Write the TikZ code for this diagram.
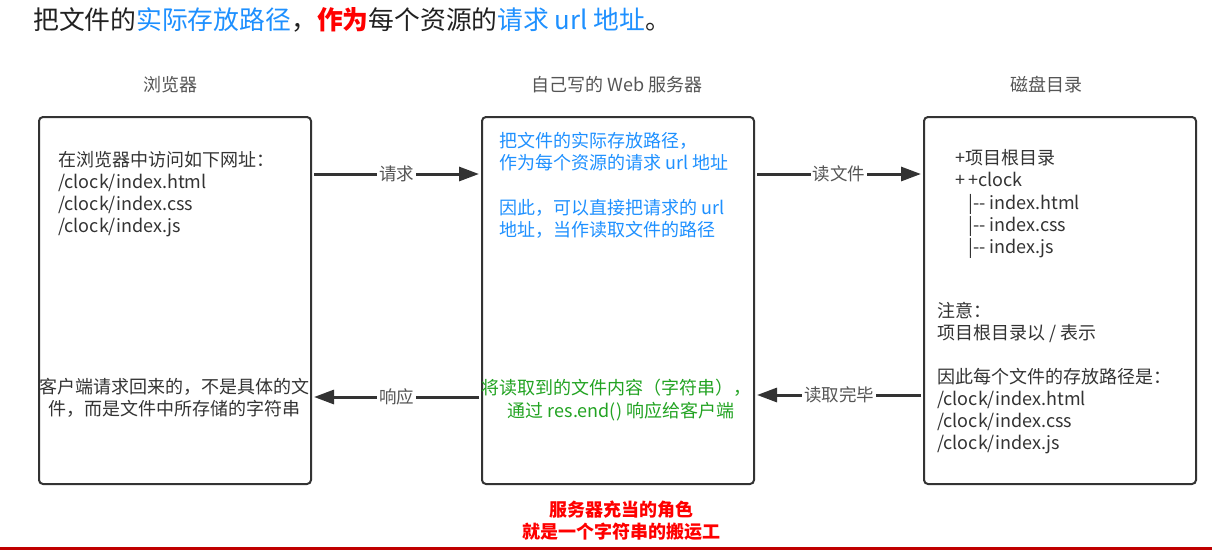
\documentclass[tikz,border=0pt]{standalone}
\usepackage{fontspec}
\setmainfont{Noto Sans CJK SC}
\usetikzlibrary{arrows.meta}
\definecolor{ink}{HTML}{333333}
\definecolor{lblgray}{HTML}{555555}
\definecolor{hblue}{HTML}{1E90FF}
\definecolor{hgreen}{HTML}{22A322}
\definecolor{hred}{HTML}{FF0000}
\definecolor{linered}{HTML}{C00000}
\begin{document}
\begin{tikzpicture}[x=1pt,y=-1pt,
  panel/.style={draw=ink,line width=2pt,rounded corners=4pt,minimum width=272pt,minimum height=367pt,inner sep=0pt,anchor=north west},
  txt/.style={font=\fontsize{18}{22}\selectfont,text=ink,inner sep=0pt},
  ln/.style={txt,anchor=base west},
  lc/.style={txt,anchor=base},
  ttl/.style={font=\fontsize{18}{20}\selectfont,text=lblgray,inner sep=0pt,anchor=base},
  arr/.style={draw=ink,line width=3pt,-{Triangle[length=20pt,width=14pt]},shorten >=2pt,shorten <=2pt},
  lbl/.style={fill=white,text=lblgray,font=\fontsize{17.5}{20}\selectfont,inner sep=2pt},
  note/.style={font=\fontsize{18}{20}\selectfont\bfseries,text=hred,inner sep=0pt,anchor=base}
]
\useasboundingbox (0,0) rectangle (1212,550);

% heading
\node[anchor=base west,inner sep=0pt,font=\fontsize{25.8}{30}\selectfont,text=black!87] (head) at (33,29)
  {把文件的\textcolor{hblue}{实际存放路径}，\textcolor{hred}{\bfseries 作为}每个资源的\textcolor{hblue}{请求 url 地址}。};

% column titles
\node[ttl] (t1) at (170,91) {浏览器};
\node[ttl] (t2) at (617,91) {自己写的 Web 服务器};
\node[ttl] (t3) at (1046,91) {磁盘目录};

% panels
\node[panel] (b1) at (38,116) {};
\node[panel] (b2) at (481,116) {};
\node[panel] (b3) at (923,116) {};

% browser panel text
\node[ln] (b1a) at (58,166) {在浏览器中访问如下网址：};
\node[ln] (b1b) at (58,188) {/clock/index.html};
\node[ln] (b1c) at (58,210) {/clock/index.css};
\node[ln] (b1d) at (58,232) {/clock/index.js};
\node[lc] (b1e) at (174,393) {客户端请求回来的，不是具体的文};
\node[lc] (b1f) at (174,415) {件，而是文件中所存储的字符串};

% server panel text
\node[ln,text=hblue] (b2a) at (499,147) {把文件的实际存放路径，};
\node[ln,text=hblue] (b2b) at (499,169) {作为每个资源的请求 url 地址};
\node[ln,text=hblue] (b2c) at (499,214) {因此，可以直接把请求的 url};
\node[ln,text=hblue] (b2d) at (499,236) {地址，当作读取文件的路径};
\node[lc,text=hgreen] (b2e) at (616,394) {将读取到的文件内容（字符串），};
\node[lc,text=hgreen] (b2f) at (621,417) {通过 res.end() 响应给客户端};

% disk panel text
\node[ln] (b3a) at (955,164) {+项目根目录};
\node[ln] (b3b) at (955,186) {+\,+clock};
\node[ln] (b3c) at (968,209) {|-{}- index.html};
\node[ln] (b3d) at (968,231) {|-{}- index.css};
\node[ln] (b3e) at (968,253) {|-{}- index.js};
\node[ln] (b3f) at (937,317) {注意：};
\node[ln] (b3g) at (937,339) {项目根目录以 / 表示};
\node[ln] (b3h) at (937,383) {因此每个文件的存放路径是：};
\node[ln] (b3i) at (937,405) {/clock/index.html};
\node[ln] (b3j) at (937,427) {/clock/index.css};
\node[ln] (b3k) at (937,449) {/clock/index.js};

% connectors
\coordinate (yt) at (0,174);
\coordinate (yb) at (0,397);
\coordinate (yb2) at (0,395);
\draw[arr] (b1.east |- yt) -- node[lbl] (l1) {请求} (b2.west |- yt);
\draw[arr] (b2.west |- yb) -- node[lbl] (l2) {响应} (b1.east |- yb);
\draw[arr] (b2.east |- yt) -- node[lbl] (l3) {读文件} (b3.west |- yt);
\draw[arr] (b3.west |- yb2) -- node[lbl] (l4) {读取完毕} (b2.east |- yb2);

% bottom note
\node[note] (n1) at (621,516) {服务器充当的角色};
\node[note] (n2) at (621,538) {就是一个字符串的搬运工};

% bottom rule
\coordinate (rl) at (0,548.5);
\coordinate (rr) at (1212,548.5);
\draw[linered,line width=2.5pt] (rl) -- (rr);
\end{tikzpicture}
\end{document}
